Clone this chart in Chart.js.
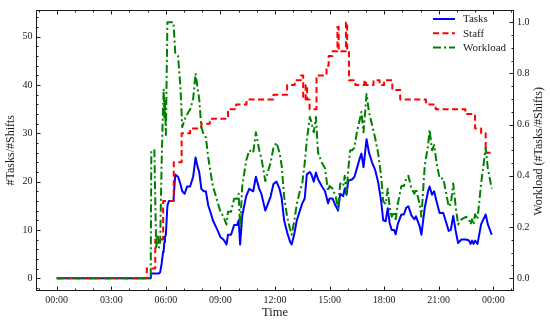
<!DOCTYPE html>
<html>
<head>
<meta charset="utf-8">
<script src="https://cdn.jsdelivr.net/npm/chart.js@4.4.0/dist/chart.umd.min.js"></script>
<style>
  html, body { margin: 0; padding: 0; background: #fff; }
  #chart { display: block; }
</style>
</head>
<body>
<canvas id="chart" width="550" height="320"></canvas>
<script>
// Sample times shared by tasks and workload (HH:MM)
const times = [
  "00:00","05:10","05:12","05:22","05:28","05:33","05:37","05:41","05:46","05:51",
  "05:53","05:55","05:57","06:00","06:05","06:10","06:25","06:31","06:40","06:48",
  "06:54","07:02","07:10","07:20","07:30","07:38","07:45","07:50","07:57","08:05",
  "08:12","08:20","08:28","08:35","08:50","09:00","09:10","09:20","09:25","09:35",
  "09:45","09:55","10:00","10:05","10:12","10:25","10:35","10:48","10:57","11:08",
  "11:15","11:28","11:45","11:55","12:05","12:15","12:22","12:30","12:40","12:50",
  "12:55","13:03","13:12","13:22","13:30","13:38","13:45","13:55","14:00","14:08",
  "14:15","14:22","14:35","14:45","14:55","15:00","15:10","15:20","15:28","15:35",
  "15:45","15:50","15:56","16:02","16:08","16:15","16:22","16:30","16:38","16:45",
  "16:52","17:02","17:10","17:20","17:30","17:40","17:50","17:57","18:05","18:12",
  "18:18","18:25","18:33","18:38","18:45","18:57","19:05","19:13","19:20","19:30",
  "19:40","19:45","19:57","20:03","20:14","20:25","20:30","20:38","20:45","20:53",
  "21:03","21:15","21:25","21:33","21:40","21:48","21:56","22:04","22:15","22:30",
  "22:40","22:45","22:50","22:55","23:00","23:08","23:20","23:35","23:42","23:55"
];

const taskCounts = [
  0, 0, 1, 1, 1, 1, 1, 1.2, 3, 5.5,
  6, 7.5, 8.5, 9, 15, 16, 16, 21.5, 21, 19.5,
  18, 17.5, 19, 19, 21, 25, 23, 22, 18.5, 18,
  18, 15, 13.5, 12, 10, 8.5, 8, 7, 9, 9,
  11, 11, 12, 7, 13, 17, 18.5, 18, 21, 18.5,
  17.5, 14, 16.8, 19.5, 20, 18.5, 16.6, 12, 9.5, 7.5,
  7, 9, 12, 14, 15.5, 16.5, 21.5, 22, 21.5, 20,
  21.9, 20.5, 19, 18, 15.5, 16.5, 16.5, 15, 14, 17.5,
  17, 18.6, 17.3, 20.3, 20.3, 20.5, 21, 22.7, 24.5, 25.8,
  23, 28.8, 26, 24, 22.5, 20, 16, 12, 11.8, 14.5,
  11.5, 10, 10, 9.1, 11.2, 13.2, 13.2, 14.6, 14.9, 13,
  12.2, 12.8, 10.8, 9, 14.6, 18, 19, 17.3, 18, 15.9,
  13.5, 13.5, 11.5, 9.8, 10, 12.9, 9.8, 7.3, 8, 8,
  7.8, 7.1, 7.8, 7.1, 7.8, 7.1, 11.2, 13.2, 11.2, 9
];

const workload = [
  0, 0, 0.5, 0.5, 0.12, 0.17, 0.12, 0.13, 0.45, 0.68,
  0.74, 0.62, 0.70, 0.56, 1.0, 1.0, 1.0, 0.88, 0.87, 0.75,
  0.59, 0.62, 0.64, 0.66, 0.70, 0.80, 0.74, 0.70, 0.59, 0.56,
  0.55, 0.47, 0.41, 0.36, 0.30, 0.26, 0.24, 0.21, 0.26, 0.26,
  0.31, 0.31, 0.33, 0.20, 0.36, 0.46, 0.50, 0.49, 0.57, 0.50,
  0.47, 0.38, 0.45, 0.51, 0.53, 0.49, 0.44, 0.32, 0.24, 0.19,
  0.17, 0.22, 0.29, 0.34, 0.37, 0.45, 0.54, 0.63, 0.61, 0.57,
  0.63, 0.49, 0.45, 0.43, 0.34, 0.36, 0.35, 0.32, 0.27, 0.37,
  0.36, 0.40, 0.33, 0.43, 0.50, 0.50, 0.51, 0.57, 0.61, 0.65,
  0.57, 0.72, 0.65, 0.60, 0.55, 0.49, 0.40, 0.30, 0.29, 0.35,
  0.28, 0.24, 0.26, 0.23, 0.29, 0.36, 0.36, 0.39, 0.40, 0.35,
  0.33, 0.35, 0.29, 0.24, 0.44, 0.52, 0.58, 0.50, 0.52, 0.45,
  0.39, 0.39, 0.33, 0.28, 0.29, 0.37, 0.28, 0.21, 0.23, 0.24,
  0.23, 0.21, 0.23, 0.21, 0.25, 0.23, 0.37, 0.51, 0.43, 0.35
];

// Staff is a step series: each value holds until the next change
const staffTimes = [
  "00:00","04:57","05:25","05:51","06:26","06:52","07:20","07:57","08:25","09:25",
  "09:52","10:26","11:55","12:40","13:05","13:25","13:33","13:41","13:46","13:54",
  "14:17","14:50","14:57","15:10","15:26","15:30","15:54","15:58","16:04","16:25",
  "16:55","17:00","17:25","17:45","18:00","18:27","18:53","20:18","20:50","22:28",
  "23:00","23:20","23:35","23:55"
];
const staffCounts = [
  0, 2, 8, 16, 24, 30, 31, 32, 33, 35,
  36, 37, 38, 40, 41, 42, 37, 40, 37, 35,
  42, 44, 46, 47, 52, 47, 53, 47, 41, 40,
  41, 40, 41, 40, 41, 39, 37, 36, 35, 34,
  31, 30, 26, 26
];

const xTickHours = [0, 3, 6, 9, 12, 15, 18, 21, 24];
const xTickLabels = ["00:00", "03:00", "06:00", "09:00", "12:00", "15:00", "18:00", "21:00", "00:00"];
const leftTicks = [0, 10, 20, 30, 40, 50];
const rightTicks = [0, 0.2, 0.4, 0.6, 0.8, 1.0];

const INK = '#1a1a1a';
const FONT = "'Liberation Serif', 'DejaVu Serif', serif";

function toHours(t) {
  const [h, m] = t.split(':').map(Number);
  return h + m / 60;
}

Chart.defaults.font.family = FONT;
Chart.defaults.color = INK;

// Inward ticks, frame, legend and right axis title (matplotlib look)
const decorations = {
  id: 'decorations',
  afterDatasetsDraw(chart) {
    const { ctx, chartArea: a, scales } = chart;
    const L = Math.round(a.left) + 0.5, R = Math.round(a.right) - 0.5;
    const T = Math.round(a.top) + 0.5, B = Math.round(a.bottom) - 0.5;
    ctx.save();
    ctx.strokeStyle = INK;
    ctx.lineWidth = 1;
    ctx.strokeRect(L, T, R - L, B - T);

    ctx.beginPath();
    // x ticks, bottom and top
    for (let h = -1; h <= 25; h++) {
      const px = Math.round(scales.x.getPixelForValue(h)) + 0.5;
      if (px <= L || px >= R) continue;
      const len = h % 3 === 0 ? 4 : 2;
      ctx.moveTo(px, B); ctx.lineTo(px, B - len);
      ctx.moveTo(px, T); ctx.lineTo(px, T + len);
    }
    // left axis ticks
    for (let v = -2; v <= 54; v += 2) {
      const py = Math.round(scales.y.getPixelForValue(v)) + 0.5;
      if (py <= T || py >= B) continue;
      const len = v % 10 === 0 ? 4 : 2;
      ctx.moveTo(L, py); ctx.lineTo(L + len, py);
    }
    // right axis ticks
    for (let k = -1; k <= 21; k++) {
      const v = k * 0.05;
      const py = Math.round(scales.y1.getPixelForValue(v)) + 0.5;
      if (py <= T || py >= B) continue;
      const len = k % 4 === 0 ? 4 : 2;
      ctx.moveTo(R, py); ctx.lineTo(R - len, py);
    }
    ctx.stroke();

    // right axis title, read bottom to top
    ctx.fillStyle = INK;
    ctx.font = '12px ' + FONT;
    ctx.textAlign = 'center';
    ctx.textBaseline = 'middle';
    ctx.save();
    ctx.translate(539, (a.top + a.bottom) / 2 + 1);
    ctx.rotate(-Math.PI / 2);
    ctx.fillText('Workload (#Tasks/#Shifts)', 0, 0);
    ctx.restore();

    // legend
    const entries = chart.data.datasets.slice().sort((p, q) => q.order - p.order);
    ctx.font = '11px ' + FONT;
    ctx.textAlign = 'left';
    entries.forEach((ds, i) => {
      const y = 19 + i * 14.3;
      ctx.beginPath();
      ctx.strokeStyle = ds.borderColor;
      ctx.lineWidth = 2;
      ctx.setLineDash(ds.borderDash || []);
      ctx.moveTo(433, y);
      ctx.lineTo(455, y);
      ctx.stroke();
      ctx.setLineDash([]);
      ctx.fillText(ds.label, 463, y + 0.5);
    });
    ctx.restore();
  }
};

new Chart(document.getElementById('chart'), {
  type: 'line',
  data: {
    datasets: [
      {
        label: 'Tasks',
        data: times.map((t, i) => ({ x: toHours(t), y: taskCounts[i] })),
        borderColor: '#0000ff',
        borderWidth: 2,
        yAxisID: 'y',
        order: 3
      },
      {
        label: 'Staff',
        data: staffTimes.map((t, i) => ({ x: toHours(t), y: staffCounts[i] })),
        borderColor: '#ff0000',
        borderWidth: 2,
        borderDash: [6, 3.5],
        stepped: 'before',
        yAxisID: 'y',
        order: 2
      },
      {
        label: 'Workload',
        data: times.map((t, i) => ({ x: toHours(t), y: workload[i] })),
        borderColor: '#008000',
        borderWidth: 2,
        borderDash: [8, 3, 2, 3],
        yAxisID: 'y1',
        order: 1
      }
    ]
  },
  options: {
    responsive: false,
    animation: false,
    devicePixelRatio: 1,
    layout: { padding: { top: 6, left: 0, right: 0, bottom: 0 } },
    elements: {
      point: { radius: 0 },
      line: { tension: 0, fill: false, borderJoinStyle: 'round', borderCapStyle: 'butt' }
    },
    plugins: {
      legend: { display: false },
      tooltip: { enabled: false }
    },
    scales: {
      x: {
        type: 'linear',
        min: -1.14,
        max: 25.14,
        afterBuildTicks: s => { s.ticks = xTickHours.map(v => ({ value: v })); },
        afterFit: s => { s.height = 29; },
        grid: { display: false, drawTicks: false },
        border: { display: false },
        ticks: {
          autoSkip: false,
          maxRotation: 0,
          padding: 3,
          font: { size: 10 },
          callback: (v, i) => xTickLabels[i]
        },
        title: { display: true, text: 'Time', font: { size: 12.5 }, padding: { top: 0, bottom: 0 } }
      },
      y: {
        type: 'linear',
        position: 'left',
        min: -2.65,
        max: 55.65,
        afterBuildTicks: s => { s.ticks = leftTicks.map(v => ({ value: v })); },
        afterFit: s => { s.width = 36; },
        grid: { display: false, drawTicks: false },
        border: { display: false },
        ticks: { padding: 3.5, font: { size: 10 } },
        title: { display: true, text: '#Tasks/#Shifts', font: { size: 12 }, padding: { top: 4 } }
      },
      y1: {
        type: 'linear',
        position: 'right',
        min: -0.05,
        max: 1.05,
        afterBuildTicks: s => { s.ticks = rightTicks.map(v => ({ value: v })); },
        afterFit: s => { s.width = 36; },
        grid: { display: false, drawTicks: false },
        border: { display: false },
        ticks: { padding: 3, font: { size: 10 }, callback: v => v.toFixed(1) }
      }
    }
  },
  plugins: [decorations]
});
</script>
</body>
</html>
